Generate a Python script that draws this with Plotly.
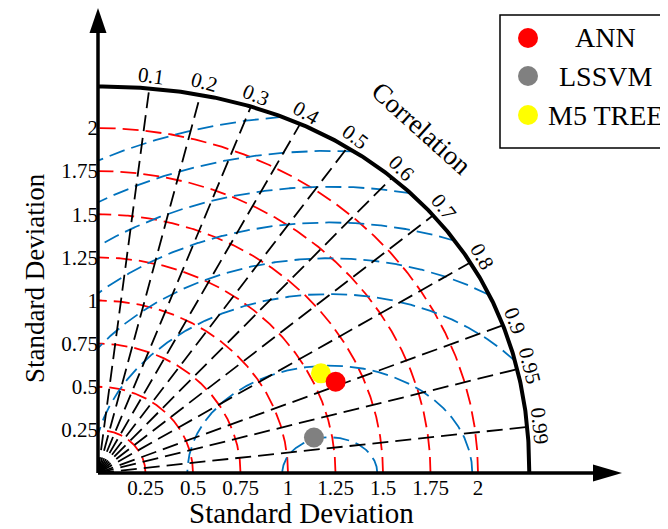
import numpy as np
import plotly.graph_objects as go

# ---------------- data ----------------
models = ["ANN", "LSSVM", "M5 TREE"]
model_std = [1.358, 1.155, 1.308]
model_corr = [0.891, 0.977, 0.860]
model_colors = ["#FF0000", "#808080", "#FFFF00"]
draw_order = [2, 0, 1]  # yellow under red

std_ticks = [0.25, 0.5, 0.75, 1, 1.25, 1.5, 1.75, 2]
std_tick_text = ["0.25", "0.5", "0.75", "1", "1.25", "1.5", "1.75", "2"]

corr_ticks = [0.1, 0.2, 0.3, 0.4, 0.5, 0.6, 0.7, 0.8, 0.9, 0.95, 0.99]
corr_tick_text = ["0.1", "0.2", "0.3", "0.4", "0.5", "0.6", "0.7", "0.8", "0.9", "0.95", "0.99"]

rms_levels = [0.25, 0.75, 1.25, 1.5, 1.75, 2.0, 2.25, 2.5]
ref_std = 1.22
frame_x, frame_y = 2.27, 2.24   # outer frame extent along each axis

# ---------------- geometry helpers ----------------
K = 0.83        # vertical compression of correlation / RMS layer as drawn in the source
FRAME_N = 2.15  # outer frame is slightly squarish
OFF = 8         # page body margin
W, H = 660, 521
ML, MR, MT, MB = 80, 0, 0, 46
xr = [-10 / 190, 570 / 190]
yr = [-10 / 172.5, 465 / 172.5]
pw, ph = W - ML - MR, H - MT - MB
pxx = pw / (xr[1] - xr[0])
pxy = ph / (yr[1] - yr[0])


def corr_angle(r):
    th = np.arccos(r)
    return np.arctan2(K * np.sin(th), np.cos(th))


def frame_r(phi):
    c, s = np.abs(np.cos(phi)), np.abs(np.sin(phi))
    return ((c / frame_x) ** FRAME_N + (s / frame_y) ** FRAME_N) ** (-1 / FRAME_N)


def inside_frame(x, y):
    return (np.abs(x) / frame_x) ** FRAME_N + (np.abs(y) / frame_y) ** FRAME_N <= 1


def px2paper(px, py):
    fx, fy = px - OFF, py - OFF
    return (fx - ML) / pw, (H - MB - fy) / ph


FONT = "Liberation Serif, Times New Roman, serif"
DASH = "16px,7px"

fig = go.Figure()

# red std arcs
t = np.linspace(0, np.pi / 2, 300)
for s in std_ticks:
    fig.add_trace(go.Scatter(x=s * np.cos(t), y=s * np.sin(t), mode="lines",
                             line=dict(color="#FF0000", width=1.8, dash=DASH),
                             hoverinfo="skip", showlegend=False))

# blue RMS arcs
tt = np.linspace(0, np.pi, 1500)
for d in rms_levels:
    x = ref_std + d * np.cos(tt)
    y = K * d * np.sin(tt)
    ok = (x >= 0) & inside_frame(x, y)
    xs, ys = [], []
    prev = False
    for xi, yi, oi in zip(x, y, ok):
        if oi:
            xs.append(xi); ys.append(yi)
        elif prev:
            xs.append(None); ys.append(None)
        prev = oi
    fig.add_trace(go.Scatter(x=xs, y=ys, mode="lines",
                             line=dict(color="#0072BD", width=1.8, dash=DASH),
                             hoverinfo="skip", showlegend=False))

# black correlation rays
for r in corr_ticks:
    a = corr_angle(r)
    rr = frame_r(a)
    fig.add_trace(go.Scatter(x=[0, rr * np.cos(a)], y=[0, rr * np.sin(a)],
                             mode="lines", line=dict(color="black", width=1.8, dash=DASH),
                             hoverinfo="skip", showlegend=False))

# outer frame
rf = frame_r(t)
fig.add_trace(go.Scatter(x=rf * np.cos(t), y=rf * np.sin(t), mode="lines",
                         line=dict(color="black", width=4), hoverinfo="skip",
                         showlegend=False))

# model points
for i in draw_order:
    a = corr_angle(model_corr[i])
    fig.add_trace(go.Scatter(x=[model_std[i] * np.cos(a)], y=[model_std[i] * np.sin(a)],
                             mode="markers", name=models[i],
                             marker=dict(size=20, color=model_colors[i], line=dict(width=0)),
                             showlegend=False))

annotations = []
# correlation labels
for r, txt in zip(corr_ticks, corr_tick_text):
    a = corr_angle(r)
    rr = frame_r(a)
    bx, by = rr * np.cos(a), rr * np.sin(a)
    sa = np.arctan2(by * pxy, bx * pxx)
    annotations.append(dict(x=bx, y=by, xref="x", yref="y", text=txt, showarrow=False,
                            xshift=13 * np.cos(sa), yshift=13 * np.sin(sa),
                            textangle=90 - np.degrees(sa),
                            font=dict(family=FONT, size=21, color="black"),
                            xanchor="center", yanchor="middle"))

cx, cy = px2paper(421, 128)
annotations.append(dict(x=cx, y=cy, xref="paper", yref="paper", text="Correlation",
                        showarrow=False, textangle=42, xanchor="center", yanchor="middle",
                        font=dict(family=FONT, size=27, color="black")))
tx, ty = px2paper(301, 513)
annotations.append(dict(x=tx, y=ty, xref="paper", yref="paper", text="Standard Deviation",
                        showarrow=False, font=dict(family=FONT, size=29, color="black"),
                        xanchor="center", yanchor="middle"))
tx, ty = px2paper(35, 278)
annotations.append(dict(x=tx, y=ty, xref="paper", yref="paper", text="Standard Deviation",
                        showarrow=False, textangle=-90,
                        font=dict(family=FONT, size=27, color="black"),
                        xanchor="center", yanchor="middle"))

shapes = []
# axis lines with arrow heads
x_tip, y_tip = 524 / 190, 465 / 172.5
shapes.append(dict(type="line", xref="x", yref="y", x0=0, y0=0, x1=x_tip - 0.1, y1=0,
                   line=dict(color="black", width=3.5)))
shapes.append(dict(type="line", xref="x", yref="y", x0=0, y0=0, x1=0, y1=y_tip - 0.1,
                   line=dict(color="black", width=3.5)))
shapes.append(dict(type="path", xref="x", yref="y", xsizemode="pixel", ysizemode="pixel",
                   xanchor=x_tip, yanchor=0, path="M 0 0 L -29 8.5 L -29 -8.5 Z",
                   fillcolor="black", line=dict(width=0)))
shapes.append(dict(type="path", xref="x", yref="y", xsizemode="pixel", ysizemode="pixel",
                   xanchor=0, yanchor=y_tip, path="M 0 0 L -8.5 -25 L 8.5 -25 Z",
                   fillcolor="black", line=dict(width=0)))

# legend box (drawn manually to match the source)
lx0, ly0 = px2paper(500, 15)
lx1, ly1 = px2paper(700, 148)
shapes.append(dict(type="rect", xref="paper", yref="paper", x0=lx0, y0=ly1, x1=lx1, y1=ly0,
                   line=dict(color="black", width=1.5), fillcolor="white", layer="above"))
rows_py = [38, 76, 115]
for i, py in enumerate(rows_py):
    mx, my = px2paper(528, py)
    shapes.append(dict(type="circle", xref="paper", yref="paper", xsizemode="pixel",
                       ysizemode="pixel", xanchor=mx, yanchor=my, x0=-10, x1=10, y0=-10, y1=10,
                       fillcolor=model_colors[i], line=dict(width=0), layer="above"))
    nx, ny = px2paper(605, py)
    annotations.append(dict(x=nx, y=ny, xref="paper", yref="paper", text=models[i],
                            showarrow=False, xanchor="center", yanchor="middle",
                            font=dict(family=FONT, size=28, color="black")))

fig.update_layout(
    width=W, height=H,
    margin=dict(l=ML, r=MR, t=MT, b=MB, autoexpand=False),
    paper_bgcolor="white", plot_bgcolor="white",
    showlegend=False,
    xaxis=dict(range=xr, showgrid=False, zeroline=False, showline=False,
               tickmode="array", tickvals=std_ticks, ticktext=std_tick_text,
               tickfont=dict(family=FONT, size=21, color="black"),
               anchor="free", position=10 / ph, ticks=""),
    yaxis=dict(range=yr, showgrid=False, zeroline=False, showline=False,
               tickmode="array", tickvals=std_ticks, ticktext=std_tick_text,
               tickfont=dict(family=FONT, size=21, color="black"),
               anchor="free", position=10 / pw, ticks=""),
    shapes=shapes, annotations=annotations,
)

fig.write_html("out.html")
